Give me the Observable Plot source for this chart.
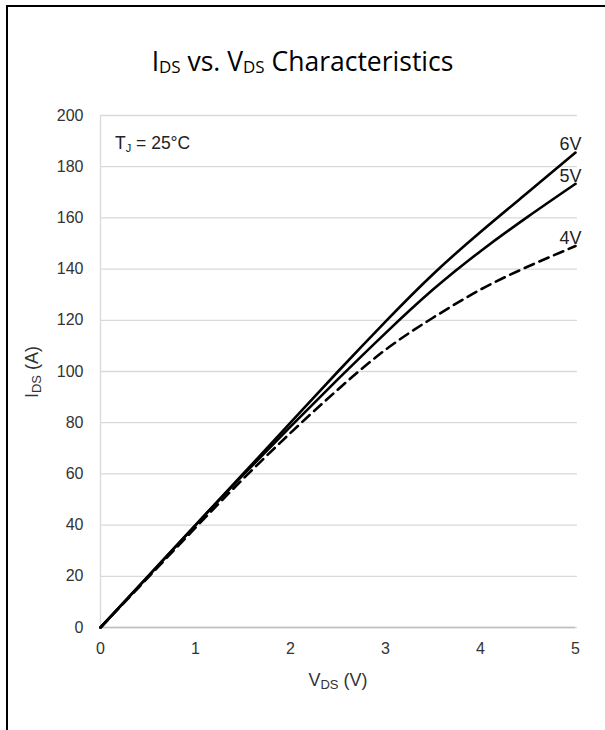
<!DOCTYPE html>
<html>
<head>
<meta charset="utf-8">
<script src="https://cdn.jsdelivr.net/npm/d3@7"></script>
<script src="https://cdn.jsdelivr.net/npm/@observablehq/plot@0.6"></script>
<style>
  body { margin: 0; background: #fff; }
  #wrap { position: relative; width: 605px; height: 730px; overflow: hidden; background: #fff; }
  #frame { position: absolute; left: 6px; top: 5px; width: 620px; height: 740px; border-top: 2px solid #000; border-left: 2px solid #000; box-sizing: border-box; }
  #title { position: absolute; left: 0; top: 44px; width: 605px; text-align: center; font-family: "Open Sans", "Noto Sans", sans-serif; font-size: 26.5px; line-height: 34px; color: #000; }
  #title .s { font-size: 0.64em; position: relative; top: 0.1em; }
  #chart { position: absolute; left: 0; top: 0; }
</style>
</head>
<body>
<div id="wrap">
  <div id="chart"></div>
  <div id="frame"></div>
  <div id="title">I<span class="s">DS</span> vs. V<span class="s">DS</span> Characteristics</div>
</div>
<script>
// V_DS sample points (V)
const vds = [0, 0.5, 1, 1.5, 2, 2.5, 3, 3.5, 4, 4.5, 5];
// I_DS (A) for each gate voltage
const ids6V = [0, 20, 40, 60, 80, 100, 119.5, 138, 154.5, 170, 185.5];
const ids5V = [0, 20, 40, 59.5, 78.5, 97, 115, 132, 147, 160.5, 173.3];
const ids4V = [0, 19.5, 39, 58, 76, 93, 108.5, 121, 132, 141, 149];
const seriesNames = ["6V", "5V", "4V"];
const seriesValues = [ids6V, ids5V, ids4V];
const seriesDash = [null, null, "10,6"];
const xTicks = [0, 1, 2, 3, 4, 5];
const yTicks = [0, 20, 40, 60, 80, 100, 120, 140, 160, 180, 200];

const rows = seriesNames.flatMap((name, s) =>
  vds.map((v, i) => ({series: name, vds: v, ids: seriesValues[s][i]})));
const ends = seriesNames.map((name, s) => ({series: name, vds: vds[vds.length - 1], ids: seriesValues[s][vds.length - 1]}));

const font = "'Liberation Sans', Arial, sans-serif";

const marks = [
  Plot.gridY(yTicks, {stroke: "#d9d9d9", strokeOpacity: 1, strokeWidth: 1.3, x1: 0, x2: 5.02}),
  Plot.ruleX([0], {stroke: "#d9d9d9", strokeWidth: 1.3}),
  Plot.ruleY([0], {stroke: "#bfbfbf", strokeWidth: 1.5}),
  Plot.axisX(xTicks, {tickSize: 0, tickPadding: 15, fontSize: 16, fill: "#333", label: null}),
  Plot.axisY(yTicks, {tickSize: 0, tickPadding: 17, fontSize: 16, fill: "#333", label: null}),
];
seriesNames.forEach((name, s) => {
  marks.push(Plot.line(rows.filter(d => d.series === name), {
    x: "vds", y: "ids", stroke: "#000", strokeWidth: 2.6, curve: "natural",
    strokeDasharray: seriesDash[s] || undefined
  }));
});
marks.push(Plot.text(ends, {x: "vds", y: "ids", text: "series", textAnchor: "end", dx: 6, dy: -8, fontSize: 18, fill: "#222", fontFamily: font}));

const plot = Plot.plot({
  width: 605,
  height: 730,
  marginLeft: 100,
  marginRight: 30,
  marginTop: 115,
  marginBottom: 103,
  style: {fontFamily: font, background: "transparent", overflow: "visible"},
  x: {domain: [0, 5]},
  y: {domain: [0, 200]},
  marks
});
document.getElementById("chart").appendChild(plot);

const svg = d3.select(plot);
// X axis title
const xt = svg.append("text").attr("x", 338).attr("y", 686).attr("text-anchor", "middle")
  .attr("font-family", font).attr("font-size", 18).attr("fill", "#333");
xt.append("tspan").text("V");
xt.append("tspan").attr("font-size", 13).attr("dy", 3).text("DS");
xt.append("tspan").attr("dy", -3).text(" (V)");
// Y axis title
const yt = svg.append("text").attr("transform", "translate(38,372) rotate(-90)").attr("text-anchor", "middle")
  .attr("font-family", font).attr("font-size", 18).attr("fill", "#333");
yt.append("tspan").text("I");
yt.append("tspan").attr("font-size", 13).attr("dy", 3).text("DS");
yt.append("tspan").attr("dy", -3).text(" (A)");
// Junction temperature note
const tj = svg.append("text").attr("x", 115).attr("y", 149).attr("text-anchor", "start")
  .attr("font-family", font).attr("font-size", 17.5).attr("fill", "#222");
tj.append("tspan").text("T");
tj.append("tspan").attr("font-size", 11).attr("dy", 3).text("J");
tj.append("tspan").attr("dy", -3).text(" = 25°C");
</script>
</body>
</html>
